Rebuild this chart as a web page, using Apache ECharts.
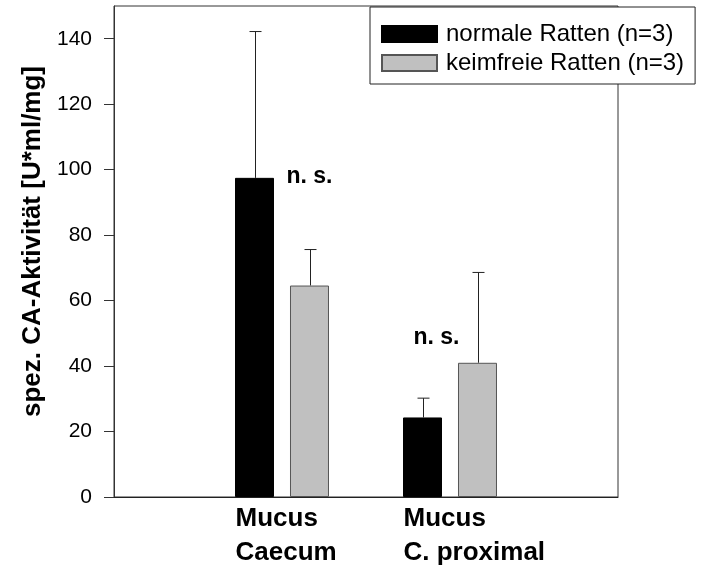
<!DOCTYPE html>
<html>
<head>
<meta charset="utf-8">
<script src="https://cdn.jsdelivr.net/npm/echarts@6/dist/echarts.min.js"></script>
<style>
  html, body { margin: 0; padding: 0; background: #fff; }
  #chart { width: 702px; height: 571px; }
</style>
</head>
<body>
<div id="chart"></div>
<script>
// values
var categories = ['Mucus\nCaecum', 'Mucus\nC. proximal'];
var normalMean = [97.5, 24.3];
var normalSd = [44.7, 5.9];
var freeMean = [64.6, 41.0];
var freeSd = [11.0, 27.6];
var yTicks = [0, 20, 40, 60, 80, 100, 120, 140];
var seriesNames = ['normale Ratten (n=3)', 'keimfreie Ratten (n=3)'];
// "n. s." notes: category index, y value
var notes = [[0, 98], [1, 48.6]];

var FONT = '"Liberation Sans", Arial, sans-serif';
var BAR_W = 39;
var BAR_GAP = 16;

// category axis padded with empty slots at both ends
var axisCats = [''].concat(categories, ['']);
function pad(arr) { return [null].concat(arr, [null]); }

function errData(mean, sd) {
    return mean.map(function (m, i) { return [i + 1, m, m + sd[i]]; });
}

function errSeries(mean, sd, shift) {
    return {
        type: 'custom',
        silent: true,
        z: 1,
        data: errData(mean, sd),
        renderItem: function (params, api) {
            var base = api.coord([api.value(0), api.value(1)]);
            var top = api.coord([api.value(0), api.value(2)]);
            var x = Math.round(base[0] + shift) + 0.5;
            var style = { stroke: '#222', lineWidth: 1 };
            return {
                type: 'group',
                children: [
                    { type: 'line', shape: { x1: x, y1: base[1], x2: x, y2: top[1] }, style: style },
                    { type: 'line', shape: { x1: x - 6, y1: top[1], x2: x + 6, y2: top[1] }, style: style }
                ]
            };
        }
    };
}

var chart = echarts.init(document.getElementById('chart'));
var half = (BAR_W + BAR_GAP) / 2;

chart.setOption({
    animation: false,
    backgroundColor: '#fff',
    grid: {
        left: 114, right: 84, top: 6, bottom: 74,
        show: true, borderColor: '#333', borderWidth: 1
    },
    legend: {
        orient: 'vertical',
        left: 370, top: 7,
        padding: [15, 11, 9, 11],
        itemGap: 5,
        itemWidth: 55, itemHeight: 16,
        icon: 'rect',
        backgroundColor: '#fff',
        borderColor: '#222', borderWidth: 1,
        textStyle: { fontFamily: FONT, fontSize: 24, color: '#000', padding: [0, 0, 0, 4] },
        data: [
            { name: seriesNames[0] },
            { name: seriesNames[1], textStyle: { padding: [8, 0, 0, 4] } }
        ],
        z: 10
    },
    xAxis: {
        type: 'category',
        data: axisCats,
        boundaryGap: false,
        axisLine: { lineStyle: { color: '#222', width: 1 } },
        axisTick: { show: false },
        axisLabel: {
            interval: 0,
            margin: 5,
            formatter: function (v) {
                if (!v) return '';
                return v.split('\n').map(function (s) { return '{a|' + s + '}'; }).join('\n');
            },
            rich: {
                a: {
                    width: 93, align: 'left',
                    fontFamily: FONT, fontSize: 26, fontWeight: 'bold',
                    lineHeight: 34, color: '#000'
                }
            }
        }
    },
    yAxis: {
        type: 'value',
        min: 0, max: 150,
        name: 'spez. CA-Aktivität [U*ml/mg]',
        nameLocation: 'middle',
        nameGap: 62,
        nameTextStyle: {
            fontFamily: FONT, fontSize: 26, fontWeight: 'bold', color: '#000',
            padding: [0, 0, 0, 20]
        },
        axisLine: { show: true, lineStyle: { color: '#333', width: 1 } },
        axisTick: { show: true, length: 10, customValues: yTicks, lineStyle: { color: '#333' } },
        axisLabel: {
            customValues: yTicks,
            margin: 22,
            fontFamily: FONT, fontSize: 21, color: '#000'
        },
        splitLine: { show: false }
    },
    series: [
        {
            name: seriesNames[0],
            type: 'bar',
            data: pad(normalMean),
            barWidth: BAR_W,
            barGap: (BAR_GAP / BAR_W * 100).toFixed(0) + '%',
            itemStyle: { color: '#000', borderColor: '#000', borderWidth: 1 },
            z: 2,
            markPoint: {
                symbol: 'rect',
                symbolSize: 1,
                itemStyle: { color: 'rgba(0,0,0,0)' },
                label: {
                    show: true, position: 'inside',
                    formatter: 'n. s.',
                    fontFamily: FONT, fontSize: 23, fontWeight: 'bold', color: '#000'
                },
                data: [
                    { coord: [notes[0][0] + 1, notes[0][1]], label: { offset: [55, 0] } },
                    { coord: [notes[1][0] + 1, notes[1][1]], label: { offset: [14, 0] } }
                ]
            }
        },
        {
            name: seriesNames[1],
            type: 'bar',
            data: pad(freeMean),
            barWidth: BAR_W,
            itemStyle: { color: '#c0c0c0', borderColor: '#555', borderWidth: 1 },
            z: 2
        },
        errSeries(normalMean, normalSd, -half),
        errSeries(freeMean, freeSd, half)
    ]
});
</script>
</body>
</html>
